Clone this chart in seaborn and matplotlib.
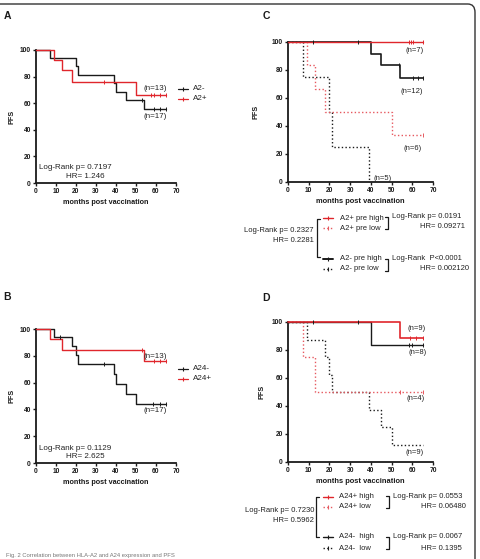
import numpy as np
import pandas as pd
import matplotlib
matplotlib.use("Agg")
import matplotlib.pyplot as plt
import seaborn as sns
from matplotlib.lines import Line2D
from matplotlib.patches import FancyBboxPatch

sns.set_theme(style="ticks")
plt.rcParams['font.family'] = ['Liberation Sans', 'DejaVu Sans']

# ---------------- data ----------------
months_ticks = [0, 10, 20, 30, 40, 50, 60, 70]
pfs_ticks = [0, 20, 40, 60, 80, 100]

# Panel A
a2neg_t = [0, 7, 20, 21, 39, 40, 45, 54, 65]
a2neg_s = [100, 94.1, 88.2, 81.5, 75.3, 68.7, 62.5, 55.7, 55.7]
a2neg_ct = [53, 59, 62, 65]
a2neg_cs = [62.5, 55.7, 55.7, 55.7]
a2pos_t = [0, 9, 13, 18, 50, 65]
a2pos_s = [100, 92.3, 84.6, 75.7, 66.2, 66.2]
a2pos_ct = [34, 57.5, 59, 62, 65]
a2pos_cs = [75.7, 66.2, 66.2, 66.2, 66.2]

# Panel B
a24neg_t = [0, 9, 18, 20, 21, 39, 40, 45, 50, 65]
a24neg_s = [100, 93.8, 87.2, 80.3, 73.9, 66.1, 59.1, 51.5, 44.0, 44.0]
a24neg_ct = [12, 34, 58.5, 62, 65]
a24neg_cs = [93.8, 73.9, 44.0, 44.0, 44.0]
a24pos_t = [0, 7, 13, 54, 65]
a24pos_s = [100, 92.3, 84.6, 76.3, 76.3]
a24pos_ct = [53, 59, 62, 65]
a24pos_cs = [84.6, 76.3, 76.3, 76.3]

# Panel C
c_poshigh_t = [0, 65]
c_poshigh_s = [100, 100]
c_poshigh_ct = [58.5, 59.5, 60.5, 65]
c_poshigh_cs = [100, 100, 100, 100]
c_poslow_t = [0, 9, 13, 18, 50, 65]
c_poslow_s = [100, 83.3, 66.7, 50.0, 33.3, 33.3]
c_poslow_ct = [65]
c_poslow_cs = [33.3]
c_neghigh_t = [0, 40, 45, 54, 65]
c_neghigh_s = [100, 91.7, 83.3, 74.1, 74.1]
c_neghigh_ct = [12, 34, 53.5, 60.5, 63, 65]
c_neghigh_cs = [100, 100, 83.3, 74.1, 74.1, 74.1]
c_neglow_t = [0, 7, 20, 21, 39]
c_neglow_s = [100, 75, 50, 25, 0]

# Panel D
d_poshigh_t = [0, 54, 65]
d_poshigh_s = [100, 88.9, 88.9]
d_poshigh_ct = [59, 62, 65]
d_poshigh_cs = [88.9, 88.9, 88.9]
d_poslow_t = [0, 7, 13, 65]
d_poslow_s = [100, 75, 50, 50]
d_poslow_ct = [54, 65]
d_poslow_cs = [50, 50]
d_neghigh_t = [0, 40, 65]
d_neghigh_s = [100, 83.3, 83.3]
d_neghigh_ct = [12, 34, 58.5, 60, 65]
d_neghigh_cs = [100, 100, 83.3, 83.3, 83.3]
d_neglow_t = [0, 9, 18, 20, 21, 39, 45, 50, 65]
d_neglow_s = [100, 87.5, 75, 62.5, 50, 37.5, 25, 12.5, 12.5]

# ---------------- figure ----------------
W, H = 481, 559
fig = plt.figure(figsize=(W / 100, H / 100), dpi=100)

RED = "#e0262c"
PINK = "#e6585f"
BLACK = "#1a1a1a"
FONT_COLOR = "#222222"


def fx(x):
    return x / W


def fy(y):
    return 1 - y / H


def add_axes(x0, x1, y0, y1):
    return fig.add_axes([fx(x0), fy(y1), (x1 - x0) / W, (y1 - y0) / H])


def km(ax, t, s, color, ls="-", lw=1.1, ct=None, cs=None):
    df = pd.DataFrame({"t": t, "s": s})
    sns.lineplot(data=df, x="t", y="s", ax=ax, color=color, linestyle=ls,
                 linewidth=lw, drawstyle="steps-post", estimator=None,
                 sort=False, errorbar=None, clip_on=False, zorder=3)
    if ct:
        dc = pd.DataFrame({"t": ct, "s": cs})
        sns.scatterplot(data=dc, x="t", y="s", ax=ax, marker="|", s=6,
                        color=color, linewidth=0.7, clip_on=False, zorder=4)


def style(ax, xlabsize, ylab_x):
    ax.set_xlim(0, 70)
    ax.set_ylim(0, 100)
    ax.set_xticks(months_ticks)
    ax.set_yticks(pfs_ticks)
    ax.set_xticklabels([str(v) for v in months_ticks])
    ax.set_yticklabels([str(v) for v in pfs_ticks])
    sns.despine(ax=ax)
    for sp in ["left", "bottom"]:
        ax.spines[sp].set_linewidth(1.3)
        ax.spines[sp].set_color(BLACK)
    ax.tick_params(direction="out", length=2.5, width=1.0, labelsize=4.8,
                   pad=1.2, colors=BLACK)
    for lbl in ax.get_xticklabels() + ax.get_yticklabels():
        lbl.set_fontweight("bold")
    ax.set_xlabel("months post vaccination", fontsize=xlabsize,
                  fontweight="bold", color=BLACK, labelpad=2.5)
    ax.set_ylabel("PFS", fontsize=5.2, fontweight="bold", color=BLACK)
    ax.yaxis.set_label_coords(ylab_x, 0.5)


def ftext(x, y, s, size=5.5, ha="left", **kw):
    fig.text(fx(x), fy(y), s, fontsize=size, ha=ha, va="center",
             color=FONT_COLOR, **kw)


def fline(xs, ys, color=BLACK, ls="-", lw=0.9):
    ln = Line2D([fx(v) for v in xs], [fy(v) for v in ys], color=color,
                linestyle=ls, linewidth=lw, transform=fig.transFigure)
    fig.add_artist(ln)


def leg_entry(x0, x1, y, color, ls, lw):
    fline([x0, x1], [y, y], color=color, ls=ls, lw=lw)
    mk = Line2D([fx((x0 + x1) / 2)], [fy(y)], marker="|", markersize=3.0,
                markeredgewidth=0.8, color=color, linestyle="none",
                transform=fig.transFigure)
    fig.add_artist(mk)


# ---------------- Panel A ----------------
axA = add_axes(36, 176, 50, 183)
km(axA, a2neg_t, a2neg_s, BLACK, "-", 1.0, a2neg_ct, a2neg_cs)
km(axA, a2pos_t, a2pos_s, RED, "-", 1.0, a2pos_ct, a2pos_cs)
style(axA, 5.2, -0.143)
ftext(144, 88, "(n=13)", 5.8)
ftext(144, 117, "(n=17)", 5.8)
ftext(39, 167, "Log-Rank p= 0.7197", 5.8)
ftext(66, 176, "HR= 1.246", 5.8)
leg_entry(178, 188, 89, BLACK, "-", 0.9)
ftext(193, 89, "A2-", 5.8)
leg_entry(178, 188, 99, RED, "-", 0.9)
ftext(193, 99, "A2+", 5.8)

# ---------------- Panel B ----------------
axB = add_axes(36, 176, 329, 463)
km(axB, a24neg_t, a24neg_s, BLACK, "-", 1.0, a24neg_ct, a24neg_cs)
km(axB, a24pos_t, a24pos_s, RED, "-", 1.0, a24pos_ct, a24pos_cs)
style(axB, 5.2, -0.143)
ftext(144, 356, "(n=13)", 5.8)
ftext(144, 411, "(n=17)", 5.8)
ftext(39, 448, "Log-Rank p= 0.1129", 5.8)
ftext(66, 457, "HR= 2.625", 5.8)
leg_entry(178, 188, 369, BLACK, "-", 0.9)
ftext(193, 369, "A24-", 5.8)
leg_entry(178, 188, 379, RED, "-", 0.9)
ftext(193, 379, "A24+", 5.8)

# ---------------- Panel C ----------------
axC = add_axes(288, 433, 42, 182)
km(axC, c_neglow_t, c_neglow_s, BLACK, ":", 1.0)
km(axC, c_poslow_t, c_poslow_s, PINK, ":", 1.0, c_poslow_ct, c_poslow_cs)
km(axC, c_neghigh_t, c_neghigh_s, BLACK, "-", 1.2, c_neghigh_ct, c_neghigh_cs)
km(axC, c_poshigh_t, c_poshigh_s, RED, "-", 1.0, c_poshigh_ct, c_poshigh_cs)
style(axC, 5.4, -0.2)
ftext(406, 51, "(n=7)", 5.5)
ftext(401, 91, "(n=12)", 5.5)
ftext(404, 148, "(n=6)", 5.5)
ftext(374, 178, "(n=5)", 5.5)

leg_entry(323, 333, 218, RED, "-", 1.0)
ftext(340, 218, "A2+ pre high")
leg_entry(323, 333, 228, PINK, ":", 1.0)
ftext(340, 228, "A2+ pre low")
leg_entry(323, 333, 259, BLACK, "-", 1.4)
ftext(340, 259, "A2- pre high")
leg_entry(323, 333, 269, BLACK, ":", 1.0)
ftext(340, 269, "A2- pre low")
fline([320, 317, 317, 320], [219, 219, 257, 257], lw=0.9)
ftext(314, 231, "Log-Rank p= 0.2327", ha="right")
ftext(314, 241, "HR= 0.2281", ha="right")
fline([385, 388, 388, 385], [217, 217, 229, 229], lw=0.9)
ftext(392, 217, "Log-Rank p= 0.0191")
ftext(420, 227, "HR= 0.09271")
fline([385, 388, 388, 385], [259, 259, 271, 271], lw=0.9)
ftext(392, 259, "Log-Rank  P<0.0001")
ftext(420, 269, "HR= 0.002120")

# ---------------- Panel D ----------------
axD = add_axes(288, 433, 322, 462)
km(axD, d_neglow_t, d_neglow_s, BLACK, ":", 1.0)
km(axD, d_poslow_t, d_poslow_s, PINK, ":", 1.0, d_poslow_ct, d_poslow_cs)
km(axD, d_neghigh_t, d_neghigh_s, BLACK, "-", 1.0, d_neghigh_ct, d_neghigh_cs)
km(axD, d_poshigh_t, d_poshigh_s, RED, "-", 1.2, d_poshigh_ct, d_poshigh_cs)
style(axD, 5.4, -0.152)
ftext(408, 329, "(n=9)", 5.5)
ftext(409, 352, "(n=8)", 5.5)
ftext(407, 399, "(n=4)", 5.5)
ftext(406, 452, "(n=9)", 5.5)

leg_entry(323, 333, 497, RED, "-", 1.0)
ftext(339, 497, "A24+ high")
leg_entry(323, 333, 507, PINK, ":", 1.0)
ftext(339, 507, "A24+ low")
leg_entry(323, 333, 537, BLACK, "-", 1.0)
ftext(339, 537, "A24-  high")
leg_entry(323, 333, 548, BLACK, ":", 1.0)
ftext(339, 548, "A24-  low")
fline([319, 316, 316, 319], [497, 497, 537, 537], lw=0.9)
ftext(314, 511, "Log-Rank p= 0.7230", ha="right")
ftext(314, 521, "HR= 0.5962", ha="right")
fline([386, 389, 389, 386], [496, 496, 508, 508], lw=0.9)
ftext(393, 497, "Log-Rank p= 0.0553")
ftext(421, 507, "HR= 0.06480")
fline([386, 389, 389, 386], [537, 537, 549, 549], lw=0.9)
ftext(393, 537, "Log-Rank p= 0.0067")
ftext(421, 548, "HR= 0.1395")

# ---------------- panel letters, frame, caption ----------------
for lab, x, y in [("A", 7, 16), ("C", 266, 16), ("B", 7, 297), ("D", 266, 298)]:
    fig.text(fx(x), fy(y), lab, fontsize=7.5, fontweight="bold",
             ha="center", va="center", color=BLACK)

frame = FancyBboxPatch((fx(-10), fy(620)), fx(485), (616) / H,
                       boxstyle="round,pad=0,rounding_size=0.015",
                       transform=fig.transFigure, fill=False,
                       edgecolor="#333333", linewidth=1.0)
fig.add_artist(frame)

fig.text(fx(6), fy(555.5), "Fig. 2 Correlation between HLA-A2 and A24 expression and PFS",
         fontsize=4.2, color="#777777", ha="left", va="center")

fig.savefig("out.png", dpi=100)
